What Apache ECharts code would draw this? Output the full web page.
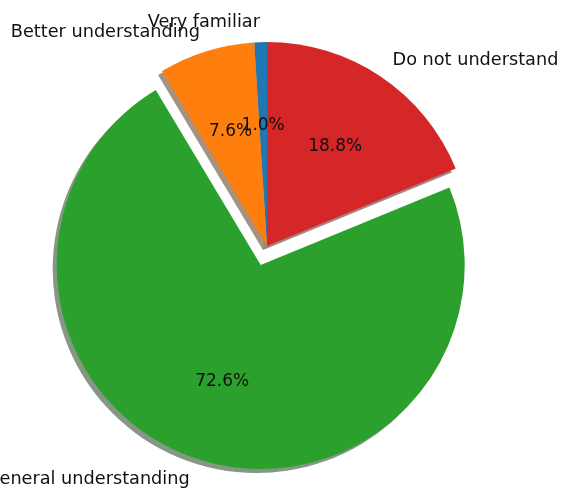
<!DOCTYPE html>
<html><head><meta charset="utf-8">
<script src="https://cdn.jsdelivr.net/npm/echarts@6/dist/echarts.min.js"></script>
<style>html,body{margin:0;padding:0;background:#fff}#c{width:571px;height:489px}</style>
</head><body><div id="c"></div>
<script>
const categories = ['Very familiar', 'Better understanding', 'General understanding', 'Do not understand'];
const values = [1.0, 7.6, 72.6, 18.8];
const colors = ['#1f77b4', '#ff7f0e', '#2ca02c', '#d62728'];
const explodedCategory = 'General understanding';

const CX = 267, CY = 246, R = 204, EXPLODE = 20;
const FONT = 'DejaVu Sans';

function shadowColor(hex) {
  const n = parseInt(hex.slice(1), 16);
  const r = Math.round(((n >> 16) & 255) * 0.3), g = Math.round(((n >> 8) & 255) * 0.3), b = Math.round((n & 255) * 0.3);
  return 'rgba(' + r + ',' + g + ',' + b + ',0.5)';
}

function buildData(colorFn) {
  return categories.map((name, i) => ({
    name: name, value: values[i], selected: name === explodedCategory,
    itemStyle: { color: colorFn(i) }
  }));
}

const common = {
  type: 'pie', startAngle: 90, clockwise: false, selectedMode: 'single', selectedOffset: EXPLODE,
  avoidLabelOverlap: false, animation: false, emphasis: { disabled: true },
  minShowLabelAngle: 0, labelLayout: { hideOverlap: false },
  labelLine: { show: false }
};

const chart = echarts.init(document.getElementById('c'), null, { renderer: 'canvas' });
chart.setOption({
  animation: false,
  series: [
    Object.assign({}, common, {
      silent: true, z: 1,
      center: [CX - 4, CY + 4], radius: R,
      label: { show: false },
      itemStyle: { borderWidth: 0 },
      data: buildData(i => shadowColor(colors[i]))
    }),
    Object.assign({}, common, {
      z: 2,
      center: [CX, CY], radius: R,
      itemStyle: { borderWidth: 0 },
      label: {
        show: true, position: 'outside', formatter: '{b}', color: '#111',
        fontFamily: FONT, fontSize: 17.7, distanceToLabelLine: 0, offset: [0, 1.5]
      },
      labelLine: { show: false, length: 0.1 * R + 1, length2: 0 },
      data: buildData(i => colors[i])
    }),
    Object.assign({}, common, {
      z: 3, silent: true,
      center: [CX, CY], radius: 1.2 * R - 6,
      itemStyle: { borderWidth: 0 },
      label: {
        show: true, position: 'inside', color: '#111',
        fontFamily: FONT, fontSize: 17, offset: [0, 2],
        formatter: p => p.percent.toFixed(1) + '%'
      },
      data: buildData(() => 'rgba(0,0,0,0)')
    })
  ]
});
</script></body></html>
